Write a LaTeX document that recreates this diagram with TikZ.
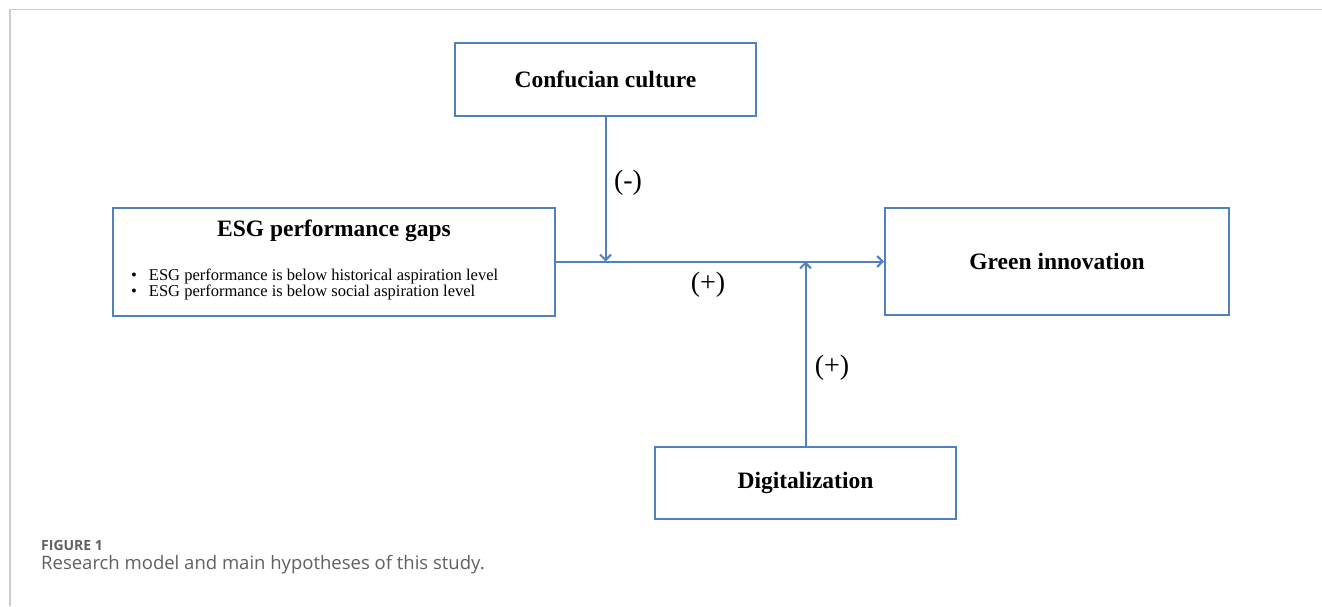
\documentclass[tikz,border=0pt]{standalone}
\usepackage{fontspec}
\setmainfont{Liberation Serif}
\newfontfamily\capfont{Open Sans}
\usetikzlibrary{arrows.meta}
\definecolor{boxblue}{HTML}{4F81BD}
\definecolor{frameg}{HTML}{CCCCCC}
\definecolor{capg}{HTML}{606060}
\begin{document}
\begin{tikzpicture}[x=1pt,y=-1pt,
  box/.style={draw=boxblue,line width=2pt,inner sep=0pt,font=\fontsize{23.5}{26}\selectfont\bfseries},
  conn/.style={draw=boxblue,line width=2pt,-{Straight Barb[length=5.5pt,width=11pt,line width=2pt]}},
  sign/.style={inner sep=0pt,font=\fontsize{28}{30}\selectfont},
  bullet/.style={inner sep=0pt,anchor=west,font=\fontsize{16.5}{18}\selectfont}]
\useasboundingbox (0,0) rectangle (1322,606);
\draw[frameg,line width=1.5pt] (10,606) -- (10,9.5) -- (1322,9.5);
\node[box,minimum width=301pt,minimum height=73pt] (cc) at (605.5,79.5) {Confucian culture};
\node[box,minimum width=442pt,minimum height=108pt] (esg) at (334,261.5) {};
\node[inner sep=0pt,font=\fontsize{23.5}{26}\selectfont\bfseries] (esgt) at (334,231) {ESG performance gaps};
\node[bullet] (b1) at (131,276) {\textbullet\hspace{12pt}ESG performance is below historical aspiration level};
\node[bullet] (b2) at (131,292) {\textbullet\hspace{12pt}ESG performance is below social aspiration level};
\node[box,minimum width=344pt,minimum height=107pt] (gi) at (1057,261.5) {Green innovation};
\node[box,minimum width=301pt,minimum height=72pt] (dg) at (805.5,483) {Digitalization};
\draw[conn] (esg.east) -- (gi.west);
\draw[conn] (cc.south) -- (cc.south |- esg.east);
\draw[conn] (dg.north) -- (dg.north |- esg.east);
\node[sign] (lm) at (628,183) {(-)};
\node[sign] (lp1) at (708,285) {(+)};
\node[sign] (lp2) at (832,368) {(+)};
\node[inner sep=0pt,anchor=west,text=capg,font=\capfont\fontsize{14}{16}\selectfont\bfseries] (fig) at (41,545) {FIGURE 1};
\node[inner sep=0pt,anchor=west,text=capg,font=\capfont\fontsize{18.5}{20}\selectfont] (cap) at (41,565) {Research model and main hypotheses of this study.};
\end{tikzpicture}
\end{document}
